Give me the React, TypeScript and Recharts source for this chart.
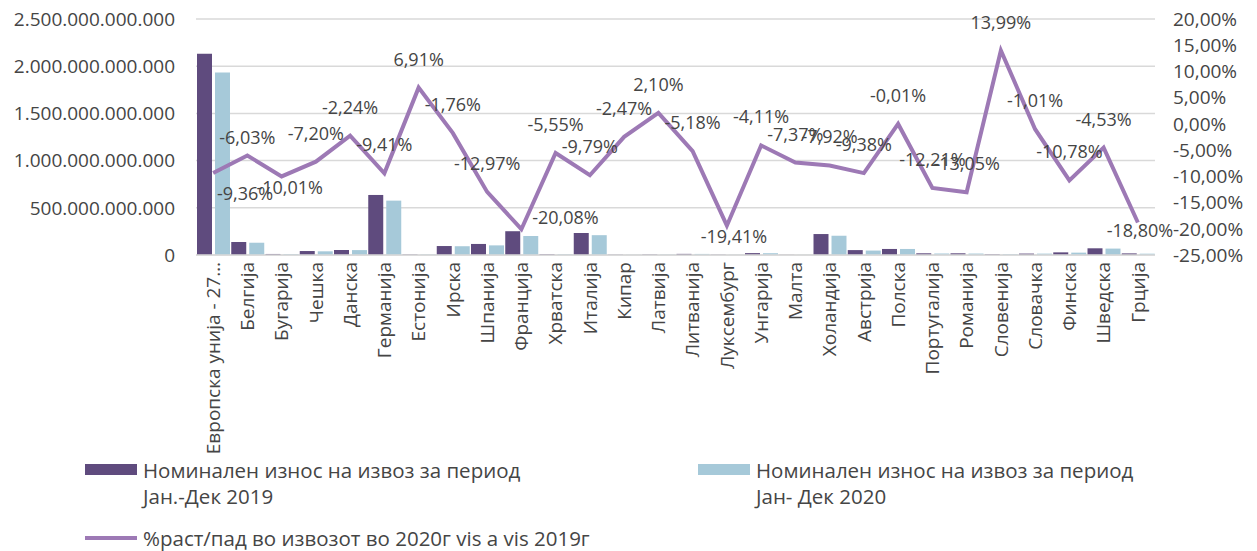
import {
  ComposedChart,
  Bar,
  Line,
  XAxis,
  YAxis,
  CartesianGrid,
  Legend,
  LabelList,
} from "recharts";

const categories: string[] = [
  "Европска унија - 27…",
  "Белгија",
  "Бугарија",
  "Чешка",
  "Данска",
  "Германија",
  "Естонија",
  "Ирска",
  "Шпанија",
  "Франција",
  "Хрватска",
  "Италија",
  "Кипар",
  "Латвија",
  "Литванија",
  "Луксембург",
  "Унгарија",
  "Малта",
  "Холандија",
  "Австрија",
  "Полска",
  "Португалија",
  "Романија",
  "Словенија",
  "Словачка",
  "Финска",
  "Шведска",
  "Грција",
];

// nominal export value, Jan-Dec 2019
const exports2019: number[] = [
  2132e9, 138e9, 11e9, 42e9, 53e9, 636e9, 5e9, 95e9, 117e9, 252e9, 8e9,
  233e9, 3e9, 5e9, 12e9, 3e9, 20e9, 2e9, 222e9, 52e9, 64e9, 18e9, 18e9,
  8e9, 15e9, 28e9, 71e9, 17e9,
];

// nominal export value, Jan-Dec 2020
const exports2020: number[] = [
  1932e9, 130e9, 10e9, 39e9, 52e9, 576e9, 5.3e9, 93e9, 102e9, 201e9, 7.6e9,
  210e9, 2.9e9, 5.1e9, 11.4e9, 2.4e9, 19e9, 1.9e9, 204e9, 47e9, 64e9, 16e9,
  15.5e9, 9.1e9, 14.8e9, 25e9, 68e9, 14e9,
];

// % growth/decline 2020 vs 2019
const growthPct: number[] = [
  -9.36, -6.03, -10.01, -7.2, -2.24, -9.41, 6.91, -1.76, -12.97, -20.08,
  -5.55, -9.79, -2.47, 2.1, -5.18, -19.41, -4.11, -7.37, -7.92, -9.38, -0.01,
  -12.21, -13.05, 13.99, -1.01, -10.78, -4.53, -18.8,
];

const leftTicks: number[] = [0, 5e11, 1e12, 1.5e12, 2e12, 2.5e12];
const rightTicks: number[] = [-25, -20, -15, -10, -5, 0, 5, 10, 15, 20];

const legendNames: string[] = [
  "Номинален износ на извоз за период\nЈан.-Дек 2019",
  "Номинален износ на извоз за период\nЈан- Дек 2020",
  "%раст/пад во извозот во 2020г vis a vis 2019г",
];

const data = categories.map((name, i) => ({
  name,
  v2019: exports2019[i],
  v2020: exports2020[i],
  pct: growthPct[i],
}));

const TEXT = "#454545";
const C2019 = "#5F4B7E";
const C2020 = "#A6C9D9";
const CLINE = "#9D79B5";
const FONT = "'Open Sans', 'Noto Sans', sans-serif";

const fmtLeft = (v: number) =>
  Math.round(v).toString().replace(/\B(?=(\d{3})+(?!\d))/g, ".");
const fmtPct = (v: number) => v.toFixed(2).replace(".", ",") + "%";

// label nudges where the default "above" position was moved
const labelNudge: Record<number, [number, number]> = {
  0: [32, 21],
  1: [0, -18],
  2: [8, 12],
  9: [44, -11],
  15: [7, 11],
  27: [2, 9],
};

const CategoryTick = (props: any) => {
  const { x, y, payload } = props;
  return (
    <g transform={`translate(${x},${y + 7})`}>
      <text
        transform="rotate(-90)"
        textAnchor="end"
        dy="0.35em"
        fill={TEXT}
        fontSize={19}
      >
        {payload.value}
      </text>
    </g>
  );
};

const GrowthLabel = (props: any) => {
  const { x, y, value, index } = props;
  const [dx, dy] = labelNudge[index] ?? [0, -28];
  return (
    <text
      x={x + dx}
      y={y + dy + 6}
      textAnchor="middle"
      fill={TEXT}
      fontSize={18}
    >
      {fmtPct(value)}
    </text>
  );
};

const renderLegend = () => {
  const textStyle: React.CSSProperties = {
    position: "absolute",
    fontSize: 20.5,
    lineHeight: "26px",
    color: TEXT,
    whiteSpace: "pre",
    textAlign: "left",
  };
  return (
    <div style={{ position: "relative", width: 1241, height: 96, fontFamily: FONT }}>
      <div style={{ position: "absolute", left: 77, top: 9, width: 52, height: 11, background: C2019 }} />
      <div style={{ ...textStyle, left: 135, top: 2 }}>{legendNames[0]}</div>
      <div style={{ position: "absolute", left: 690, top: 9, width: 52, height: 11, background: C2020 }} />
      <div style={{ ...textStyle, left: 748, top: 2 }}>{legendNames[1]}</div>
      <div style={{ position: "absolute", left: 77, top: 81, width: 52, height: 4, background: CLINE }} />
      <div style={{ ...textStyle, left: 135, top: 70 }}>{legendNames[2]}</div>
    </div>
  );
};

export default function App() {
  return (
    <div style={{ fontFamily: FONT, width: 1241, height: 543 }}>
      <ComposedChart
        width={1241}
        height={543}
        data={data}
        margin={{ top: 11, right: 0, left: 0, bottom: 0 }}
        barCategoryGap={1}
        barGap={3}
      >
        <CartesianGrid
          yAxisId="left"
          vertical={false}
          stroke="#D9D9D9"
          strokeWidth={1.5}
        />
        <XAxis
          dataKey="name"
          interval={0}
          height={200}
          tick={<CategoryTick />}
          tickLine={false}
          tickSize={0}
          tickMargin={0}
          axisLine={{ stroke: "#D9D9D9", strokeWidth: 1.5 }}
        />
        <YAxis
          yAxisId="left"
          domain={[0, 2.5e12]}
          ticks={leftTicks}
          interval={0}
          width={188}
          tickFormatter={fmtLeft}
          axisLine={false}
          tickLine={false}
          tickSize={0}
          tickMargin={21}
          tick={{ fill: TEXT, fontSize: 19 }}
        />
        <YAxis
          yAxisId="right"
          orientation="right"
          domain={[-25, 20]}
          ticks={rightTicks}
          interval={0}
          width={94}
          tickFormatter={fmtPct}
          axisLine={false}
          tickLine={false}
          tickSize={0}
          tickMargin={18}
          tick={{ fill: TEXT, fontSize: 19 }}
        />
        <Bar yAxisId="left" dataKey="v2019" fill={C2019} isAnimationActive={false} />
        <Bar yAxisId="left" dataKey="v2020" fill={C2020} isAnimationActive={false} />
        <Line
          yAxisId="right"
          type="linear"
          dataKey="pct"
          stroke={CLINE}
          strokeWidth={4}
          dot={false}
          isAnimationActive={false}
        >
          <LabelList dataKey="pct" content={<GrowthLabel />} />
        </Line>
        <Legend verticalAlign="bottom" content={renderLegend} />
      </ComposedChart>
    </div>
  );
}
